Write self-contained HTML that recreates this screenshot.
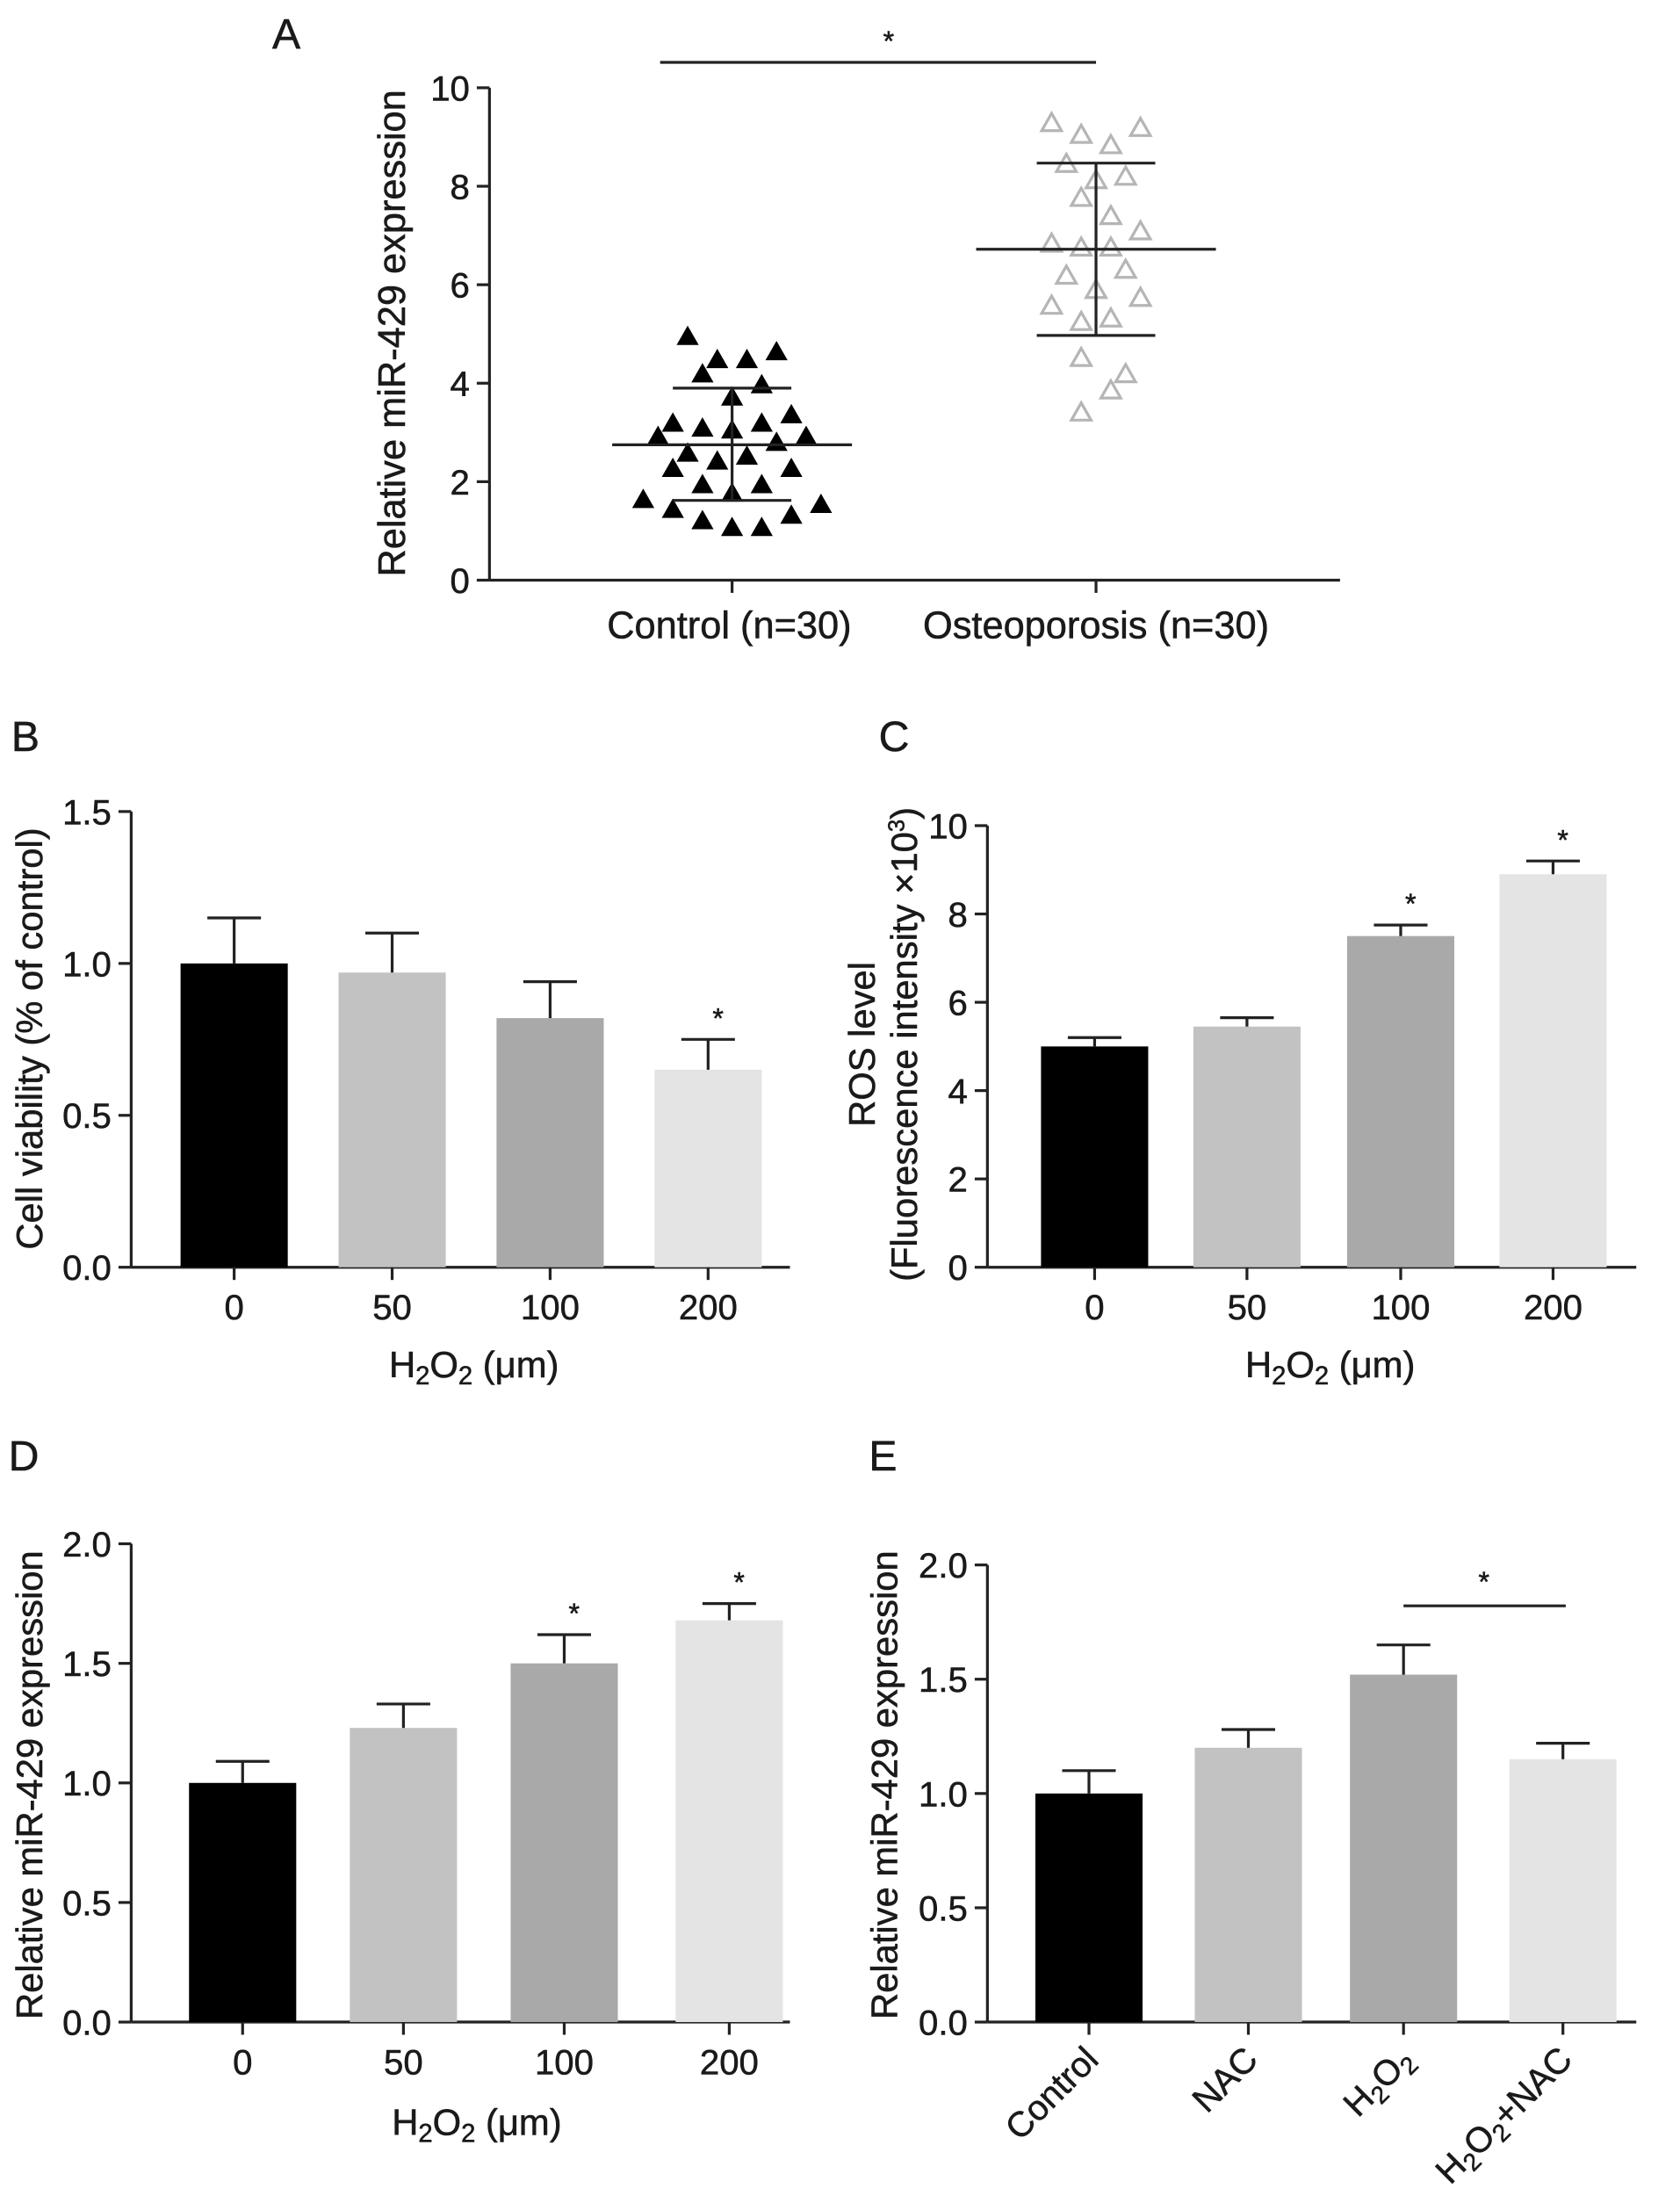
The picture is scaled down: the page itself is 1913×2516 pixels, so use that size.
<!DOCTYPE html>
<html><head><meta charset="utf-8"><style>
html,body{margin:0;padding:0;background:#fff}
svg{display:block}
text{font-family:"Liberation Sans",sans-serif;fill:#1a1a1a;stroke:#1a1a1a;stroke-width:0.35}
</style></head><body>
<svg id="fig" width="1913" height="2516" viewBox="0 0 1191 1566" xmlns="http://www.w3.org/2000/svg"></svg>
<script>
// Panel A data
const ctrlVals=[4.94,4.47,4.47,4.63,4.18,3.96,3.71,3.18,3.08,3.18,3.35,2.91,3.04,2.91,2.79,2.57,2.51,2.41,2.26,2.26,1.93,1.93,1.76,1.63,1.53,1.43,1.31,1.2,1.06,1.06];
const ctrlJit=[-3,-1,1,3,-2,2,0,-4,-2,2,4,-5,0,5,3,-3,1,-1,-4,4,-2,2,0,-6,6,-4,4,-2,0,2];
const ctrlStats=[2.75,3.9,1.62];
const ostVals=[9.28,9.04,8.83,9.18,8.45,8.19,8.12,7.76,7.39,7.08,6.83,6.75,6.75,6.3,6.18,5.89,5.73,5.57,5.24,5.31,4.51,4.18,3.85,3.4];
const ostJit=[-3,-1,1,3,-2,2,0,-1,1,3,-3,-1,1,2,-2,0,3,-3,-1,1,-1,2,1,-1];
const ostStats=[6.72,8.47,4.97];
const aTicks=[0,2,4,6,8,10];
// Panel B
const bCats=["0","50","100","200"];const bVals=[1.0,0.97,0.82,0.65];const bErr=[1.15,1.1,0.94,0.75];const bTicks=["0.0","0.5","1.0","1.5"];const bSig=[false,false,false,true];
// Panel C
const cCats=["0","50","100","200"];const cVals=[5.0,5.45,7.5,8.9];const cErr=[5.2,5.65,7.75,9.2];const cTicks=["0","2","4","6","8","10"];const cSig=[false,false,true,true];
// Panel D
const dCats=["0","50","100","200"];const dVals=[1.0,1.23,1.5,1.68];const dErr=[1.09,1.33,1.62,1.75];const dTicks=["0.0","0.5","1.0","1.5","2.0"];const dSig=[false,false,true,true];
// Panel E
const eCats=["Control","NAC","H2O2","H2O2+NAC"];const eVals=[1.0,1.2,1.52,1.15];const eErr=[1.1,1.28,1.65,1.22];const eTicks=["0.0","0.5","1.0","1.5","2.0"];
const colors=["#000000","#c2c2c2","#a9a9a9","#e4e4e4"];

const TK=25, TT=26;
const svg=document.getElementById('fig');const NS="http://www.w3.org/2000/svg";
function el(tag,attrs,parent,txt){const e=document.createElementNS(NS,tag);for(const k in attrs)e.setAttribute(k,attrs[k]);if(txt!==undefined)e.textContent=txt;(parent||svg).appendChild(e);return e;}
function line(x1,y1,x2,y2,p,w){return el('line',{x1,y1,x2,y2,stroke:'#222','stroke-width':w||2},p);}
function sub(t,x,y,size,anchor,p,rot){
  const tx=el('text',{x,y,'font-size':size,'text-anchor':anchor},p);
  if(rot)tx.setAttribute('transform',rot);
  t.replace(/H2O2/g,'\u0001').split(/(\u0001)/).forEach(s=>{
    if(s==='\u0001'){el('tspan',{},tx,'H');el('tspan',{dy:5,'font-size':size*0.7},tx,'2');el('tspan',{dy:-5},tx,'O');el('tspan',{dy:5,'font-size':size*0.7},tx,'2');el('tspan',{dy:-5},tx,'\u200b');}
    else if(s)el('tspan',{},tx,s);
  });
  return tx;
}

// ---- Panel A ----
(function(){
  const g=el('g',{});
  
  const x0=347,y0=411,yT=62,max=10;const ys=v=>y0-(y0-yT)*v/max;
  const cx=[519,777];
  el('text',{x:193,y:34,'font-size':30},g,'A');
  line(x0,yT,x0,y0,g);line(x0,y0,950,y0,g);
  aTicks.forEach(t=>{line(x0-9,ys(t),x0,ys(t),g);const tl=el('text',{x:x0-14,y:ys(t)+9,'font-size':TK,'text-anchor':'end'},g,String(t));});
  cx.forEach(c=>line(c,y0,c,y0+9,g));
  const yt=el('text',{x:0,y:0,'font-size':27,'text-anchor':'middle',transform:'translate(287,236) rotate(-90)'},g,'Relative miR-429 expression');
  
  el('text',{x:517,y:452,'font-size':27,'text-anchor':'middle'},g,'Control (n=30)');
  el('text',{x:777,y:452,'font-size':27,'text-anchor':'middle'},g,'Osteoporosis (n=30)');
  line(468,44,777,44,g);el('text',{x:630,y:36,'font-size':20,'text-anchor':'middle'},g,'*');
  function tri(x,y,fill){const s=7;return el('polygon',{points:`${x},${y-s} ${x-s},${y+s*0.75} ${x+s},${y+s*0.75}`,fill:fill?'#000':'none',stroke:fill?'#000':'#b5b5b5','stroke-width':fill?1:2},g);}
  ctrlVals.forEach((v,i)=>{const p=tri(cx[0]+ctrlJit[i]*10.5,ys(v),true);});
  ostVals.forEach((v,i)=>{const p=tri(cx[1]+ostJit[i]*10.5,ys(v),false);});
  function stats(c,s,hw){line(c-hw,ys(s[0]),c+hw,ys(s[0]),g);line(c-42,ys(s[1]),c+42,ys(s[1]),g);line(c-42,ys(s[2]),c+42,ys(s[2]),g);line(c,ys(s[1]),c,ys(s[2]),g);}
  stats(cx[0],ctrlStats,85);stats(cx[1],ostStats,85);
})();

function barPanel(o){
  const g=el('g',{});
  
  const ys=v=>o.y0-(o.y0-o.yT)*v/o.max;
  el('text',{x:o.lx,y:o.ly,'font-size':30},g,o.label);
  line(o.x0,o.yT,o.x0,o.y0,g);line(o.x0,o.y0,o.xEnd,o.y0,g);
  o.ticks.forEach(t=>{const v=parseFloat(t);line(o.x0-9,ys(v),o.x0,ys(v),g);const tl=el('text',{x:o.x0-14,y:ys(v)+9,'font-size':TK,'text-anchor':'end'},g,t);});
  o.vals.forEach((v,i)=>{
    const c=o.cx[i];
    const r=el('rect',{x:c-38,y:ys(v),width:76,height:o.y0-ys(v),fill:colors[i]},g);
    
    line(c,ys(v),c,ys(o.err[i]),g);line(c-19,ys(o.err[i]),c+19,ys(o.err[i]),g);
    line(c,o.y0,c,o.y0+9,g);
    if(o.sig&&o.sig[i]){const s=el('text',{x:c+7,y:ys(o.err[i])-8,'font-size':20,'text-anchor':'middle'},g,'*');}
    if(o.rot){const t=sub(o.cats[i],c+8,o.y0+28,TK,'end',g,`rotate(-45 ${c+8} ${o.y0+28})`);}
    else{const t=el('text',{x:c,y:o.y0+37,'font-size':TK,'text-anchor':'middle'},g,o.cats[i]);}
  });
  o.ytitle.forEach((s,k)=>{const t=el('text',{x:0,y:0,'font-size':TT,'text-anchor':'middle',transform:`translate(${o.ytx[k]},${o.yty}) rotate(-90)`},g);
    
    if(s==='sup'){el('tspan',{},t,'(Fluorescence intensity  ×10');el('tspan',{dy:-9,'font-size':16},t,'3');el('tspan',{dy:9},t,')');}
    else t.textContent=s;});
  if(o.xtitle){const t=sub('H2O2 (μm)',o.xtx,o.xty,TT,'middle',g);}
  return {g,ys};
}
barPanel({name:'panel-b',label:'B',lx:8,ly:532,x0:93,y0:898,yT:575,max:1.5,xEnd:560,cx:[166,278,390,502],vals:bVals,err:bErr,cats:bCats,ticks:bTicks,sig:bSig,ytitle:['Cell viability (% of control)'],ytx:[30],yty:736,xtitle:true,xtx:336,xty:976});
barPanel({name:'panel-c',label:'C',lx:623,ly:532,x0:700,y0:898,yT:585,max:10,xEnd:1160,cx:[776,884,993,1101],vals:cVals,err:cErr,cats:cCats,ticks:cTicks,sig:cSig,ytitle:['ROS level','sup'],ytx:[620,650],yty:740,xtitle:true,xtx:943,xty:976});
barPanel({name:'panel-d',label:'D',lx:6,ly:1042,x0:93,y0:1433,yT:1094,max:2,xEnd:560,cx:[172,286,400,517],vals:dVals,err:dErr,cats:dCats,ticks:dTicks,sig:dSig,ytitle:['Relative miR-429 expression'],ytx:[30],yty:1265,xtitle:true,xtx:338,xty:1513});
const E=barPanel({name:'panel-e',label:'E',lx:616,ly:1042,x0:700,y0:1433,yT:1109,max:2,xEnd:1160,cx:[772,885,995,1108],vals:eVals,err:eErr,cats:eCats,ticks:eTicks,rot:true,ytitle:['Relative miR-429 expression'],ytx:[636],yty:1265,xtitle:false});
line(995,1138,1110,1138,E.g);
const es=el('text',{x:1052,y:1128,'font-size':20,'text-anchor':'middle'},E.g,'*');

</script>
</body></html>
